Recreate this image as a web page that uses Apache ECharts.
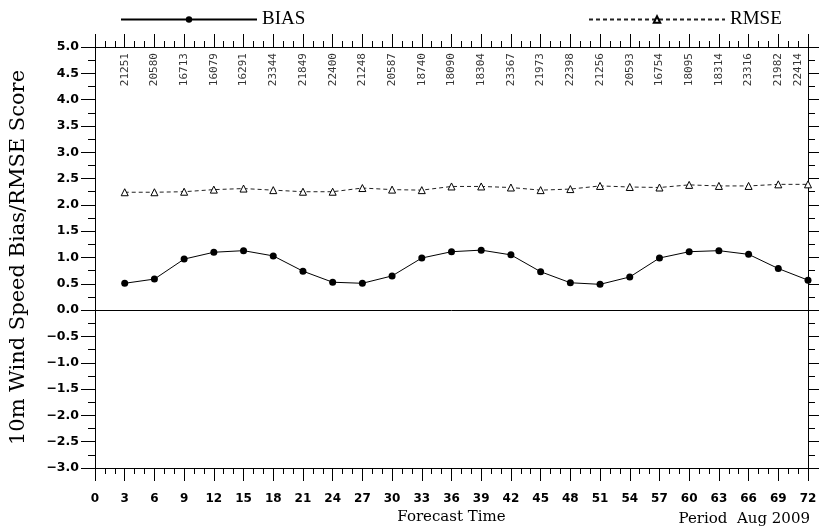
<!DOCTYPE html>
<html><head><meta charset="utf-8">
<script src="https://cdn.jsdelivr.net/npm/echarts@6/dist/echarts.min.js"></script>
<style>html,body{margin:0;padding:0;background:#fff}#c{width:819px;height:526px}</style>
</head><body><div id="c"></div><script>
const forecastHours = [3,6,9,12,15,18,21,24,27,30,33,36,39,42,45,48,51,54,57,60,63,66,69,72];
const biasValues = [0.51,0.59,0.97,1.10,1.13,1.03,0.74,0.53,0.51,0.65,0.99,1.11,1.14,1.05,0.73,0.52,0.49,0.63,0.99,1.11,1.13,1.06,0.79,0.57];
const rmseValues = [2.24,2.24,2.25,2.29,2.31,2.28,2.25,2.25,2.32,2.29,2.28,2.35,2.35,2.33,2.28,2.30,2.36,2.34,2.33,2.38,2.36,2.36,2.39,2.39];
const sampleCounts = ['21251','20580','16713','16079','16291','23344','21849','22400','21248','20587','18740','18090','18304','23367','21973','22398','21256','20593','16754','18095','18314','23316','21982','22414'];
const xTickLabels = ['0','3','6','9','12','15','18','21','24','27','30','33','36','39','42','45','48','51','54','57','60','63','66','69','72'];
const yTickLabels = ['\u22123.0','\u22122.5','\u22122.0','\u22121.5','\u22121.0','\u22120.5','0.0','0.5','1.0','1.5','2.0','2.5','3.0','3.5','4.0','4.5','5.0'];

const numFont = 'DejaVu Sans';
const serif = 'DejaVu Serif';
const black = '#000';
const countLabelY = 4.885;

function xAxisCfg(pos, showLabel) {
  return {
    type: 'value', min: 0, max: 72, interval: 3, position: pos,
    axisLine: { onZero: false, lineStyle: { color: black, width: 1 } },
    axisTick: { show: true, length: 13, lineStyle: { color: black, width: 1 } },
    minorTick: { show: true, splitNumber: 3, length: 6, lineStyle: { color: black, width: 1 } },
    splitLine: { show: false },
    axisLabel: {
      show: showLabel, margin: 25, color: black, fontFamily: numFont, fontSize: 12, fontWeight: 'bold',
      formatter: v => xTickLabels[Math.round(v / 3)]
    },
    name: showLabel ? 'Forecast Time' : '', nameLocation: 'middle', nameGap: 41,
    nameTextStyle: { fontFamily: serif, fontSize: 15, color: black }
  };
}
function yAxisCfg(pos, showLabel) {
  return {
    type: 'value', min: -3, max: 5, interval: 0.5, position: pos,
    axisLine: { onZero: false, lineStyle: { color: black, width: 1 } },
    axisTick: { show: true, length: 14, lineStyle: { color: black, width: 1 } },
    minorTick: { show: true, splitNumber: 2, length: 7, lineStyle: { color: black, width: 1 } },
    splitLine: { show: false },
    axisLabel: {
      show: showLabel, margin: 16, color: black, fontFamily: numFont, fontSize: 12.5, fontWeight: 'bold',
      formatter: v => yTickLabels[Math.round((v + 3) / 0.5)]
    },
    name: showLabel ? '10m Wind Speed Bias/RMSE Score' : '', nameLocation: 'middle', nameGap: 66,
    nameTextStyle: { fontFamily: serif, fontSize: 21, color: black }
  };
}

const chart = echarts.init(document.getElementById('c'), null, { renderer: 'canvas' });
chart.setOption({
  animation: false,
  backgroundColor: '#fff',
  grid: { left: 95, right: 11, top: 47, bottom: 58, containLabel: false, outerBoundsMode: 'none' },
  title: {
    text: 'Period  Aug 2009', right: 9, top: 512, padding: 0,
    textStyle: { fontFamily: serif, fontSize: 15, fontWeight: 'normal', color: black }
  },
  legend: [
    { data: ['BIAS'], left: 120, top: 10, padding: 0, itemWidth: 136, itemHeight: 8,
      textStyle: { fontFamily: 'Liberation Serif', fontSize: 19, color: black } },
    { data: ['RMSE'], left: 588, top: 10, padding: 0, itemWidth: 136, itemHeight: 8,
      textStyle: { fontFamily: 'Liberation Serif', fontSize: 19, color: black } }
  ],
  xAxis: [xAxisCfg('bottom', true), xAxisCfg('top', false)],
  yAxis: [yAxisCfg('left', true), yAxisCfg('right', false)],
  series: [
    {
      name: 'BIAS', type: 'line', xAxisIndex: 0, yAxisIndex: 0,
      data: forecastHours.map((h, i) => [h, biasValues[i]]),
      symbol: 'circle', symbolSize: 7,
      itemStyle: { color: black },
      lineStyle: { color: black, width: 1 },
      markLine: {
        silent: true, symbol: ['none', 'none'], label: { show: false },
        lineStyle: { color: black, type: 'solid', width: 1 },
        data: [{ yAxis: 0 }]
      }
    },
    {
      name: 'RMSE', type: 'line', xAxisIndex: 0, yAxisIndex: 0,
      data: forecastHours.map((h, i) => [h, rmseValues[i]]),
      symbol: 'triangle', symbolSize: 7,
      itemStyle: { color: '#fff', borderColor: black, borderWidth: 1 },
      lineStyle: { color: '#222', width: 1, type: [4, 3] }
    },
    {
      name: 'counts', type: 'scatter', xAxisIndex: 0, yAxisIndex: 0,
      symbolSize: 0, silent: true,
      data: forecastHours.map((h, i) => {
        const item = { value: [h, countLabelY] };
        if (i === forecastHours.length - 1) item.label = { offset: [0, -10] };
        return item;
      }),
      label: {
        show: true, position: 'inside', rotate: 90, align: 'right', verticalAlign: 'middle',
        fontFamily: 'DejaVu Sans Mono', fontSize: 11, color: black,
        formatter: p => sampleCounts[p.dataIndex]
      }
    }
  ]
});
</script></body></html>
